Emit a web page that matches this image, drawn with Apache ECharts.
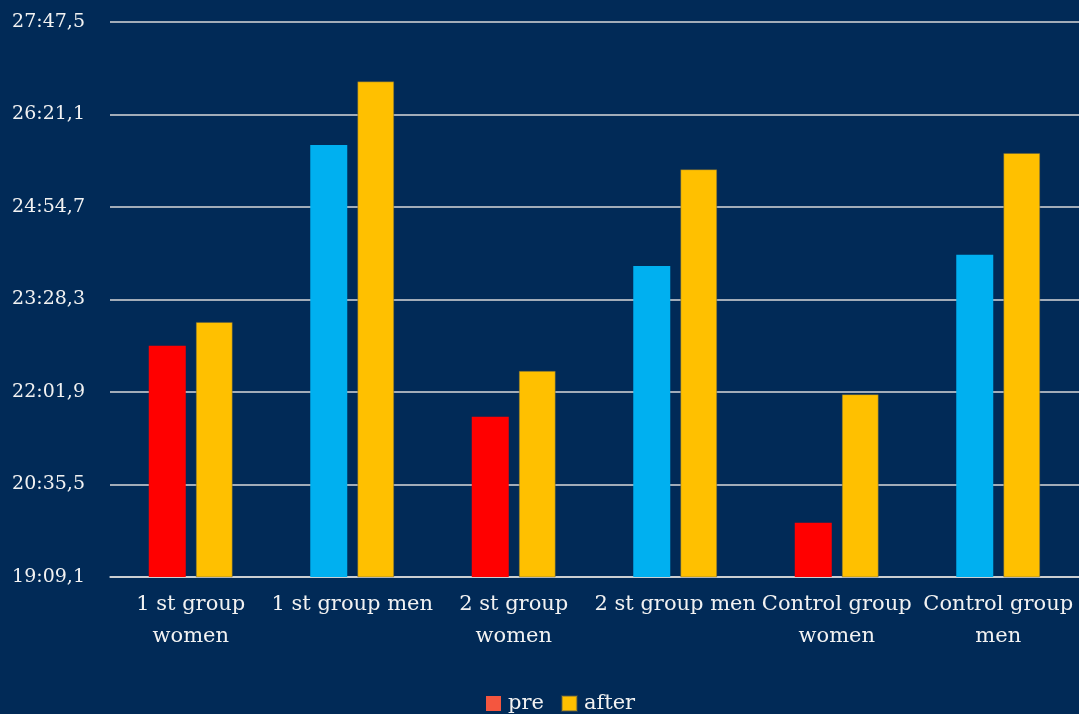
<!DOCTYPE html>
<html>
<head>
<meta charset="utf-8">
<script src="https://cdn.jsdelivr.net/npm/echarts@6/dist/echarts.min.js"></script>
<style>
  html, body { margin: 0; padding: 0; background: #012A57; }
  #chart { width: 1079px; height: 714px; }
</style>
</head>
<body>
<div id="chart"></div>
<script>
// Group names and their two-line axis labels
const categories = ['1 st group women', '1 st group men', '2 st group women', '2 st group men', 'Control group women', 'Control group men'];
const categoryLabels = ['1 st group\nwomen', '1 st group men', '2 st group\nwomen', '2 st group men', 'Control group\nwomen', 'Control group\nmen'];

// Times in seconds (mm:ss,s)
const preValues = [1365.0, 1552.7, 1298.7, 1439.7, 1199.8, 1450.0];
const afterValues = [1387.4, 1612.1, 1341.7, 1530.0, 1319.9, 1545.2];

// Bar colours for the "pre" series: women red, men blue
const preColors = ['#FF0000', '#00B0F0', '#FF0000', '#00B0F0', '#FF0000', '#00B0F0'];

// Value axis: 19:09,1 to 27:47,5 in steps of 1:26,4
const axisMin = 1149.1;
const axisMax = 1667.5;
const axisStep = 86.4;

function fmtTime(v) {
  const t = Math.round(v * 10);
  const m = Math.floor(t / 600);
  const rest = t - m * 600;
  const s = Math.floor(rest / 10);
  const d = rest % 10;
  return m + ':' + String(s).padStart(2, '0') + ',' + d;
}

const font = 'DejaVu Serif';
const chart = echarts.init(document.getElementById('chart'));
chart.setOption({
  backgroundColor: '#012A57',
  animation: false,
  grid: { left: 110, right: 0, top: 22, bottom: 137, containLabel: false },
  legend: {
    data: ['pre', 'after'],
    left: 481,
    top: 688,
    itemWidth: 15,
    itemHeight: 15,
    itemGap: 17,
    icon: 'rect',
    textStyle: { color: '#F2F2F2', fontFamily: font, fontSize: 21, padding: [0, 0, 0, 2] }
  },
  xAxis: {
    type: 'category',
    data: categories,
    axisLine: { show: true, lineStyle: { color: '#D9D9D9', width: 1.5 } },
    axisTick: { show: false },
    axisLabel: {
      color: '#F2F2F2',
      fontFamily: font,
      fontSize: 21,
      lineHeight: 32,
      margin: 12,
      interval: 0,
      formatter: (v, i) => categoryLabels[i]
    }
  },
  yAxis: {
    type: 'value',
    min: axisMin,
    max: axisMax,
    interval: axisStep,
    axisLine: { show: false },
    axisTick: { show: false },
    splitLine: { lineStyle: { color: '#D9D9D9', width: 1.5 } },
    axisLabel: {
      color: '#F2F2F2',
      fontFamily: font,
      fontSize: 19,
      margin: 25,
      formatter: fmtTime
    }
  },
  series: [
    {
      name: 'pre',
      type: 'bar',
      barWidth: 37,
      barGap: '27%',
      itemStyle: { color: '#F4563F' },
      data: preValues.map((v, i) => ({ value: v, itemStyle: { color: preColors[i] } }))
    },
    {
      name: 'after',
      type: 'bar',
      barWidth: 37,
      itemStyle: { color: '#FFC000', borderColor: 'rgba(90,90,70,0.45)', borderWidth: 1 },
      data: afterValues
    }
  ]
});
</script>
</body>
</html>
